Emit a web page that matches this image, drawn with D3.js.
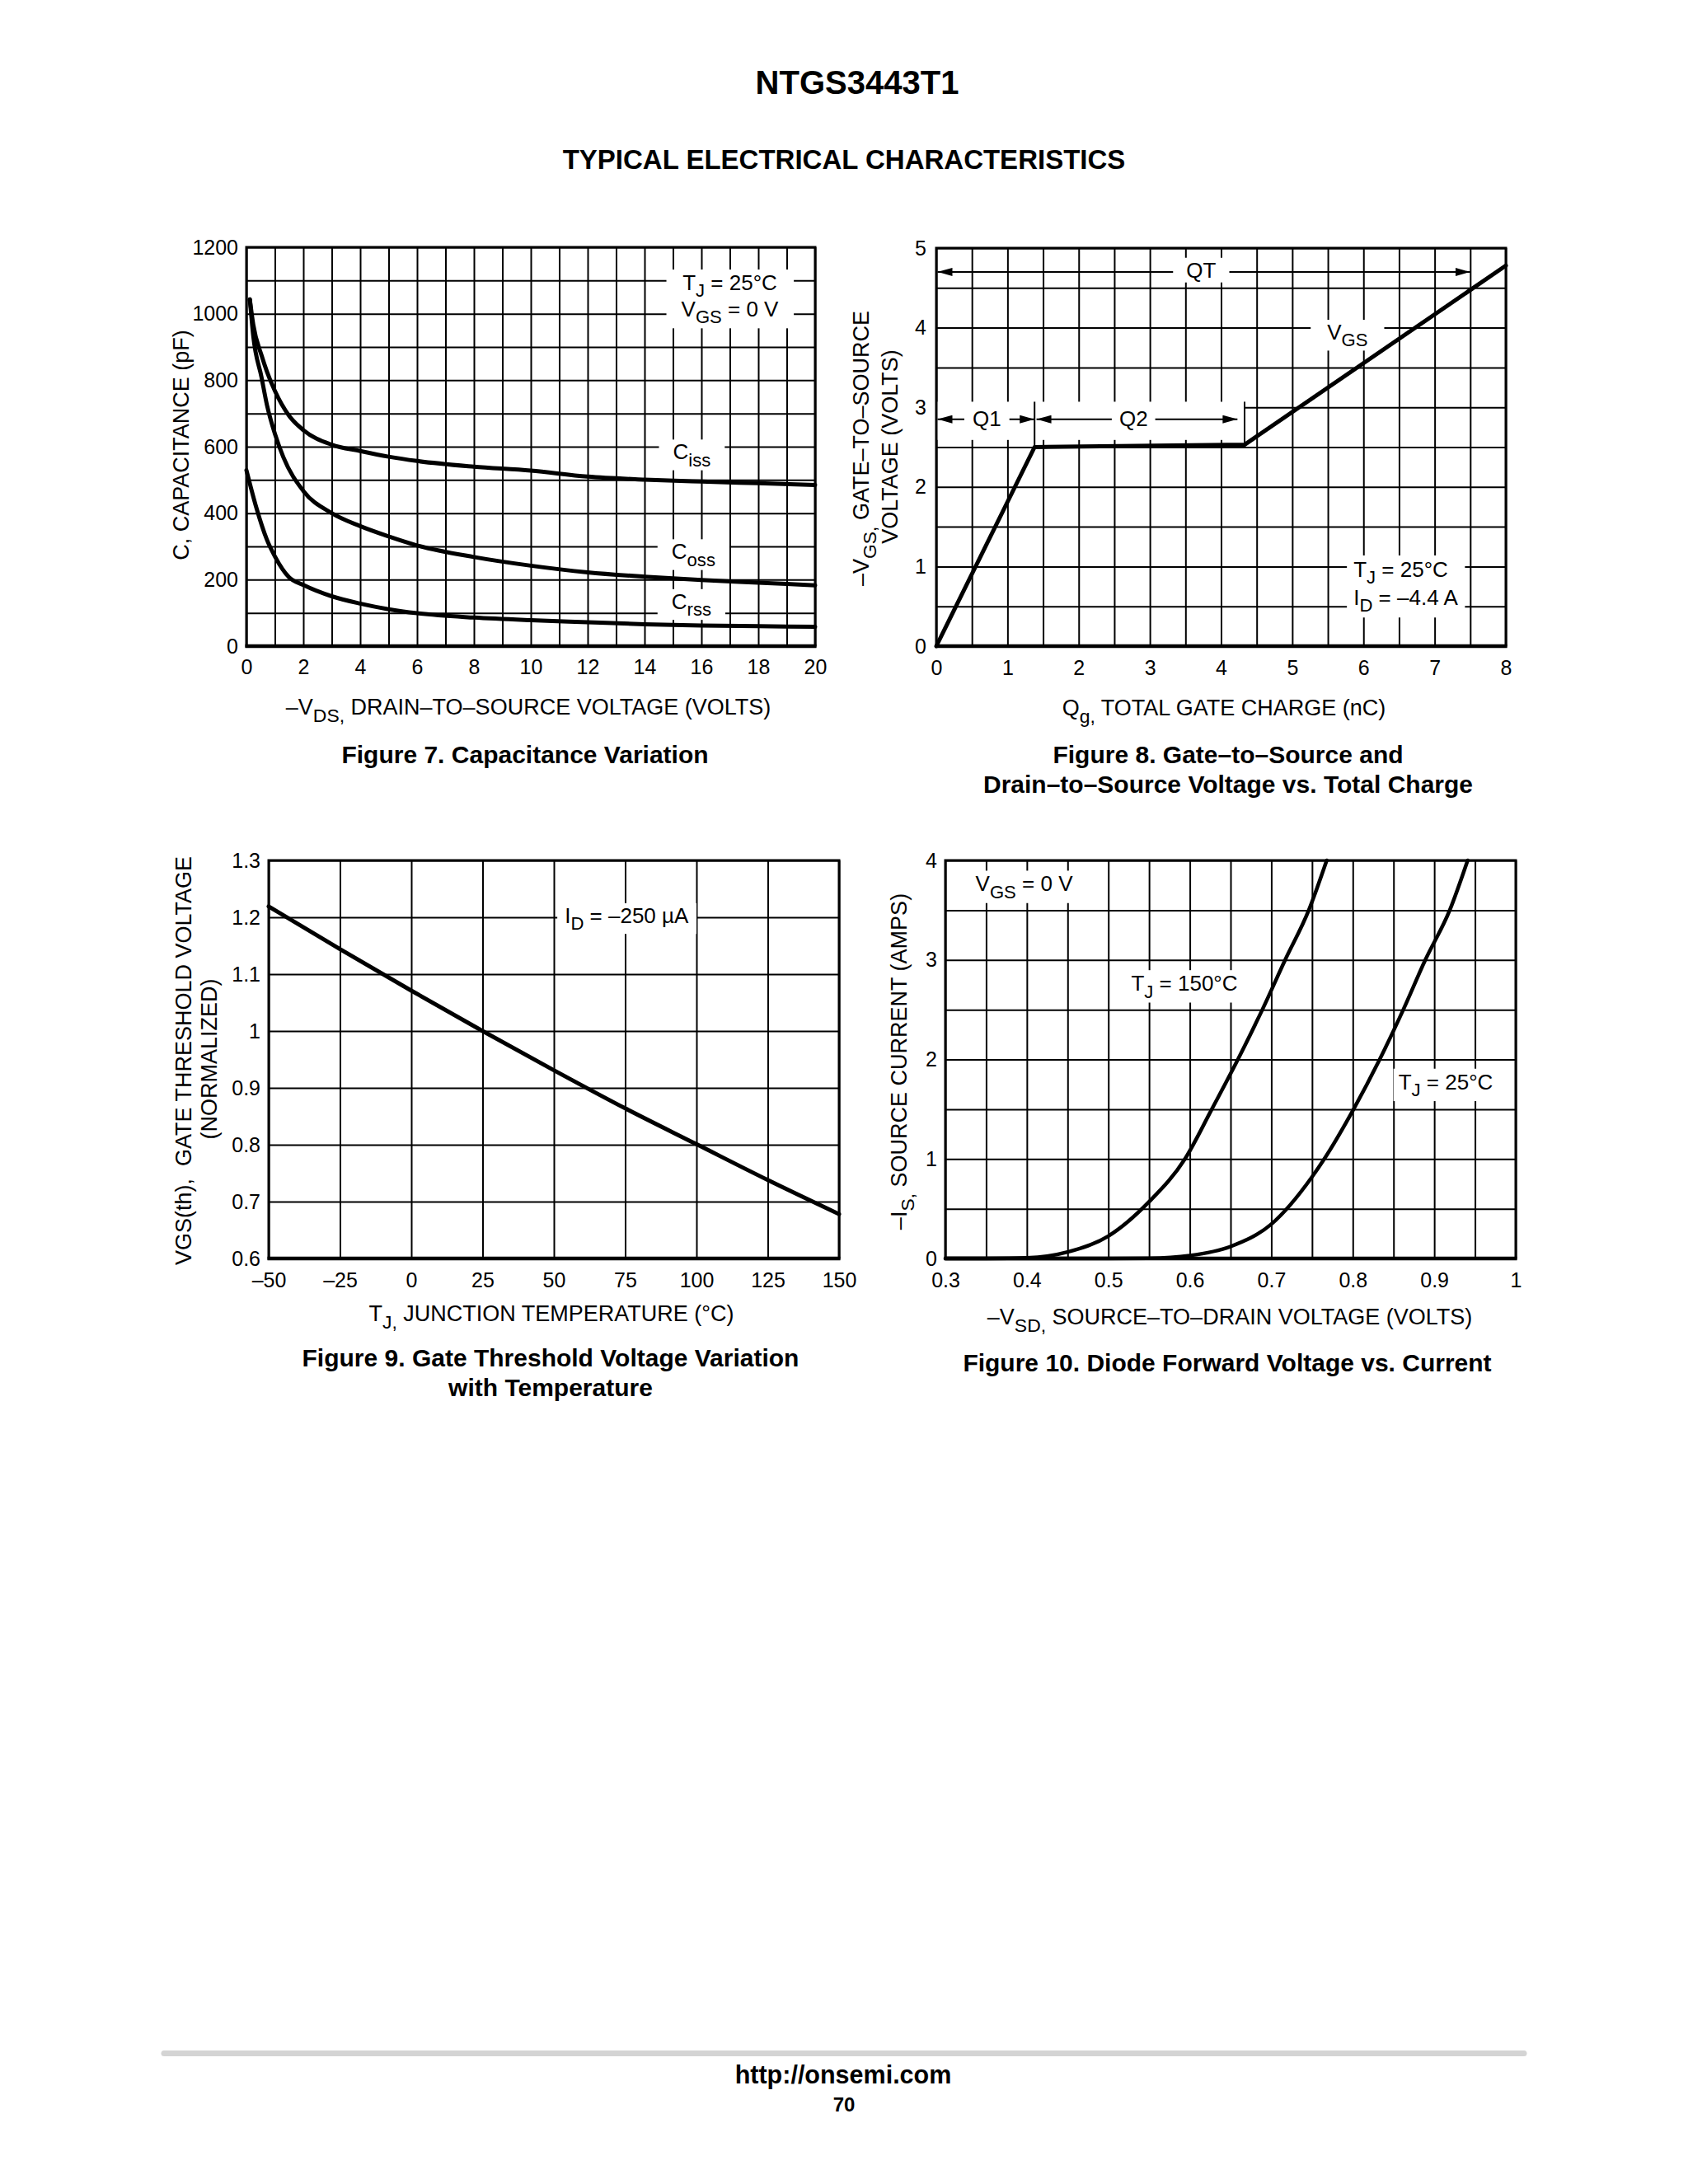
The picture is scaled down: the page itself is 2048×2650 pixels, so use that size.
<!DOCTYPE html>
<html><head><meta charset="utf-8">
<script src="https://cdn.jsdelivr.net/npm/d3@7"></script>
<style>
html,body{margin:0;padding:0;background:#fff;}
svg{display:block;background:#fff;}
</style></head><body>
<svg id="page" width="2048" height="2650"></svg>
<script>
// ================= DATA =================
// Figure 7 – Capacitance Variation  [-VDS (V), C (pF)]
const fig7XTicks = [0, 2, 4, 6, 8, 10, 12, 14, 16, 18, 20];
const fig7YTicks = [0, 200, 400, 600, 800, 1000, 1200];
const cissData = [[0.12,1043],[0.24,967],[0.53,875],[0.72,826],[1,768],[1.5,693],[2,650],[3,606],[4,587],[5,570],[6,557],[8,540],[10,528],[12,510],[14,501],[16,495],[18,490],[20,485]];
const cossData = [[0.12,1043],[0.24,933],[0.53,809],[0.72,726],[1,639],[1.3,568],[2,467],[3,400],[4,361],[5,330],[6,303],[8,268],[10,242],[12,222],[14,209],[16,199],[18,191],[20,183]];
const crssData = [[0,529],[0.34,419],[0.72,320],[1,270],[1.5,207],[2,184],[3,150],[4,128],[5,111],[6,99],[8,86],[10,78],[12,72],[14,66],[16,62],[18,60],[20,58]];

// Figure 8 – Gate charge  [Qg (nC), -VGS (V)]
const fig8XTicks = [0, 1, 2, 3, 4, 5, 6, 7, 8];
const fig8YTicks = [0, 1, 2, 3, 4, 5];
const vgsChargeData = [[0,0],[1.38,2.5],[4.33,2.53],[8,4.78]];
const q1Span = [0, 1.38];
const q2Span = [1.38, 4.23];
const qtSpan = [0, 7.5];
const qMarkers = [[1.38, 2.5], [4.33, 2.53]];

// Figure 9 – Gate threshold vs temperature  [TJ (°C), VGS(th) normalized]
const fig9XTicks = [-50, -25, 0, 25, 50, 75, 100, 125, 150];
const fig9YTicks = [0.6, 0.7, 0.8, 0.9, 1, 1.1, 1.2, 1.3];
const vthData = [[-50,1.219],[-25,1.144],[0,1.071],[25,1.0],[50,0.931],[75,0.864],[100,0.801],[125,0.738],[150,0.678]];

// Figure 10 – Diode forward voltage vs current  [-VSD (V), -IS (A)]
const fig10XTicks = [0.3, 0.4, 0.5, 0.6, 0.7, 0.8, 0.9, 1];
const fig10YTicks = [0, 1, 2, 3, 4];
const is150Data = [[0.3,0],[0.35,0.001],[0.4,0.006],[0.45,0.065],[0.5,0.225],[0.55,0.57],[0.594,1.0],[0.627,1.5],[0.659,2.0],[0.689,2.5],[0.717,3.0],[0.746,3.5],[0.768,4.0]];
const is25Data = [[0.3,0],[0.5,0],[0.55,0.003],[0.6,0.03],[0.65,0.12],[0.7,0.345],[0.75,0.82],[0.765,1.0],[0.801,1.5],[0.833,2.0],[0.862,2.5],[0.889,3.0],[0.919,3.5],[0.941,4.0]];

// ================= DRAWING =================
const svg = d3.select("#page");
const FONT = '"Liberation Sans", Arial, Helvetica, sans-serif';
const dash = v => String(v).replace("-", "\u2013");
const AX = 27, CAP = 30, ANN = 26, TICK = 25;

function parseRich(str){
  const parts=[]; const re=/_\{([^}]*)\}/g; let last=0, m;
  while((m=re.exec(str))){
    if(m.index>last) parts.push({t:str.slice(last,m.index),sub:false});
    parts.push({t:m[1],sub:true}); last=re.lastIndex;
  }
  if(last<str.length) parts.push({t:str.slice(last),sub:false});
  return parts;
}
function rich(parent, str, x, y, size, o={}){
  const t = parent.append("text").attr("x",x).attr("y",y).attr("font-size",size)
    .attr("font-family",FONT).attr("fill","#000")
    .attr("text-anchor",o.anchor||"start").attr("font-weight",o.weight||"normal")
    .style("white-space","pre");
  if(o.rotate) t.attr("transform",`rotate(-90,${x},${y})`);
  const shift=size*0.32; let down=false;
  parseRich(str).forEach(p=>{
    const s=t.append("tspan").text(p.t);
    if(p.sub){ s.attr("font-size",size*0.85); if(!down){ s.attr("dy",shift); down=true; } }
    else if(down){ s.attr("dy",-shift); down=false; }
  });
  return t;
}
function boxed(parent, lines, x, y, lineH, size, o={}){
  const g=parent.append("g");
  const r=g.append("rect").attr("fill","#fff");
  const ts=lines.map((s,i)=>rich(g,s,x,y+i*lineH,size,o));
  let x0=Infinity,y0=Infinity,x1=-Infinity,y1=-Infinity;
  ts.forEach(t=>{const b=t.node().getBBox(); x0=Math.min(x0,b.x); y0=Math.min(y0,b.y); x1=Math.max(x1,b.x+b.width); y1=Math.max(y1,b.y+b.height);});
  const px=o.padX??10, py=o.padY??2;
  r.attr("x",x0-px).attr("y",y0-py).attr("width",x1-x0+2*px).attr("height",y1-y0+2*py);
  return g;
}

function chart(cfg){
  const g = svg.append("g");
  const x = d3.scaleLinear().domain(cfg.xDomain).range([cfg.left, cfg.right]);
  const y = d3.scaleLinear().domain(cfg.yDomain).range([cfg.bottom, cfg.top]);
  const h = cfg.bottom-cfg.top, w = cfg.right-cfg.left;
  // grid
  g.append("g").attr("transform",`translate(0,${cfg.bottom})`)
    .call(d3.axisBottom(x).tickValues(cfg.xGrid).tickSize(-h).tickFormat(""))
    .call(a=>a.select(".domain").remove())
    .selectAll("line").attr("stroke","#000").attr("stroke-width",2);
  g.append("g").attr("transform",`translate(${cfg.left},0)`)
    .call(d3.axisLeft(y).tickValues(cfg.yGrid).tickSize(-w).tickFormat(""))
    .call(a=>a.select(".domain").remove())
    .selectAll("line").attr("stroke","#000").attr("stroke-width",2);
  // tick labels
  g.append("g").attr("transform",`translate(0,${cfg.bottom})`)
    .call(d3.axisBottom(x).tickValues(cfg.xTicks).tickSize(0).tickPadding(cfg.xPad||16).tickFormat(cfg.xFmt||dash))
    .call(a=>a.select(".domain").remove())
    .attr("font-size",TICK).attr("font-family",FONT);
  g.append("g").attr("transform",`translate(${cfg.left},0)`)
    .call(d3.axisLeft(y).tickValues(cfg.yTicks).tickSize(0).tickPadding(cfg.yPad||10).tickFormat(cfg.yFmt||dash))
    .call(a=>a.select(".domain").remove())
    .attr("font-size",TICK).attr("font-family",FONT);
  const frame = () => {
    g.append("rect").attr("x",cfg.left).attr("y",cfg.top).attr("width",w).attr("height",h)
      .attr("fill","none").attr("stroke","#000").attr("stroke-width",3);
    g.append("line").attr("x1",cfg.left-1.5).attr("x2",cfg.right+1.5).attr("y1",cfg.bottom).attr("y2",cfg.bottom)
      .attr("stroke","#000").attr("stroke-width",4.5);
  };
  return {g, x, y, frame};
}
function curve(c, data, width, kind){
  const line = d3.line().x(d=>c.x(d[0])).y(d=>c.y(d[1])).curve(kind||d3.curveMonotoneX);
  c.g.append("path").datum(data).attr("d",line).attr("fill","none").attr("stroke","#000")
    .attr("stroke-width",width).attr("stroke-linejoin","round").attr("stroke-linecap","round");
}

// markers
const defs = svg.append("defs");
defs.append("marker").attr("id","arr").attr("viewBox","0 0 18 10").attr("refX",18).attr("refY",5)
  .attr("markerWidth",18).attr("markerHeight",10).attr("markerUnits","userSpaceOnUse")
  .attr("orient","auto-start-reverse")
  .append("path").attr("d","M0,0 L18,5 L0,10 Z").attr("fill","#000");

// ---------- Page titles ----------
rich(svg,"NTGS3443T1",1040,114,40,{anchor:"middle",weight:"bold"});
rich(svg,"TYPICAL ELECTRICAL CHARACTERISTICS",1024,205,33,{anchor:"middle",weight:"bold"});

// ---------- Figure 7 ----------
{
  const c = chart({left:299,right:989,top:300,bottom:784,xDomain:[0,20],yDomain:[0,1200],
    xGrid:d3.range(0,20.01,1),yGrid:d3.range(0,1200.1,100),xTicks:fig7XTicks,yTicks:fig7YTicks});
  boxed(c.g,["T_{J} = 25°C","V_{GS} = 0 V"],c.x(17.0),c.y(1071),32,ANN,{anchor:"middle",padX:18,padY:1});
  boxed(c.g,["C_{iss}"],c.x(15.0),c.y(562),0,ANN,{padX:17,padY:0});
  boxed(c.g,["C_{oss}"],c.x(14.95),c.y(262),0,ANN,{padX:17,padY:0});
  boxed(c.g,["C_{rss}"],c.x(14.95),c.y(112),0,ANN,{padX:17,padY:0});
  c.frame();
  curve(c,cissData,5); curve(c,cossData,5); curve(c,crssData,5);
  rich(svg,"\u2013V_{DS,} DRAIN\u2013TO\u2013SOURCE VOLTAGE (VOLTS)",641,867,AX,{anchor:"middle"});
  rich(svg,"C, CAPACITANCE (pF)",229,540,AX,{anchor:"middle",rotate:true});
  rich(svg,"Figure 7. Capacitance Variation",637,926,CAP,{anchor:"middle",weight:"bold"});
}

// ---------- Figure 8 ----------
{
  const c = chart({left:1136,right:1827,top:301,bottom:784,xDomain:[0,8],yDomain:[0,5],
    xGrid:d3.range(0,8.01,0.5),yGrid:d3.range(0,5.01,0.5),xTicks:fig8XTicks,yTicks:fig8YTicks,yPad:12,xPad:17});
  // white band behind Q1/Q2 row
  c.g.append("rect").attr("x",c.x(0)).attr("y",c.y(3.07)).attr("width",c.x(qMarkers[1][0])-c.x(0))
    .attr("height",c.y(2.59)-c.y(3.07)).attr("fill","#fff");
  c.frame();
  const arrow = (span, v) => c.g.append("line").attr("x1",c.x(span[0])+1.5).attr("x2",c.x(span[1])).attr("y1",c.y(v)).attr("y2",c.y(v))
      .attr("stroke","#000").attr("stroke-width",2).attr("marker-start","url(#arr)").attr("marker-end","url(#arr)");
  arrow(qtSpan,4.70); arrow(q1Span,2.85); arrow([q2Span[0]+0.01,q2Span[1]],2.85);
  qMarkers.forEach(m=>c.g.append("line").attr("x1",c.x(m[0])).attr("x2",c.x(m[0])).attr("y1",c.y(m[1])).attr("y2",c.y(3.07))
      .attr("stroke","#000").attr("stroke-width",2));
  boxed(c.g,["QT"],c.x(3.72),c.y(4.63),0,ANN,{anchor:"middle",padX:16,padY:0});
  boxed(c.g,["Q1"],c.x(0.71),c.y(2.76),0,ANN,{anchor:"middle",padX:10,padY:0});
  boxed(c.g,["Q2"],c.x(2.77),c.y(2.76),0,ANN,{anchor:"middle",padX:9,padY:0});
  boxed(c.g,["V_{GS}"],c.x(5.49),c.y(3.85),0,ANN,{padX:20,padY:0});
  boxed(c.g,["T_{J} = 25°C","I_{D} = \u20134.4 A"],c.x(5.86),c.y(0.87),34,ANN,{padX:8,padY:2});
  curve(c,vgsChargeData,5,d3.curveLinear);
  rich(svg,"Q_{g,} TOTAL GATE CHARGE (nC)",1485,868,AX,{anchor:"middle"});
  rich(svg,"\u2013V_{GS,} GATE\u2013TO\u2013SOURCE",1054,544,AX,{anchor:"middle",rotate:true});
  rich(svg,"VOLTAGE (VOLTS)",1089,542,AX,{anchor:"middle",rotate:true});
  rich(svg,"Figure 8. Gate\u2013to\u2013Source and",1490,926,CAP,{anchor:"middle",weight:"bold"});
  rich(svg,"Drain\u2013to\u2013Source Voltage vs. Total Charge",1490,962,CAP,{anchor:"middle",weight:"bold"});
}

// ---------- Figure 9 ----------
{
  const c = chart({left:326,right:1018,top:1044,bottom:1527,xDomain:[-50,150],yDomain:[0.6,1.3],
    xGrid:d3.range(-50,150.1,25),yGrid:d3.range(6,13.01,1).map(v=>v/10),xTicks:fig9XTicks,yTicks:fig9YTicks,xPad:17});
  boxed(c.g,["I_{D} = \u2013250 \u00B5A"],c.x(53.8),c.y(1.19),0,ANN,{padX:9,padY:0});
  c.frame();
  curve(c,vthData,5);
  rich(svg,"T_{J,} JUNCTION TEMPERATURE (°C)",669,1603,AX,{anchor:"middle"});
  rich(svg,"VGS(th),  GATE THRESHOLD VOLTAGE",232,1287,AX,{anchor:"middle",rotate:true});
  rich(svg,"(NORMALIZED)",263,1285,AX,{anchor:"middle",rotate:true});
  rich(svg,"Figure 9. Gate Threshold Voltage Variation",668,1658,CAP,{anchor:"middle",weight:"bold"});
  rich(svg,"with Temperature",668,1694,CAP,{anchor:"middle",weight:"bold"});
}

// ---------- Figure 10 ----------
{
  const c = chart({left:1147,right:1839,top:1044,bottom:1527,xDomain:[0.3,1.0],yDomain:[0,4],
    xGrid:d3.range(6,20.01,1).map(v=>v/20),yGrid:d3.range(0,4.01,0.5),xTicks:fig10XTicks,yTicks:fig10YTicks,xPad:17});
  boxed(c.g,["V_{GS} = 0 V"],c.x(0.337),c.y(3.69),0,ANN,{padX:6,padY:1});
  boxed(c.g,["T_{J} = 150°C"],c.x(0.528),c.y(2.69),0,ANN,{padX:6,padY:1});
  boxed(c.g,["T_{J} = 25°C"],c.x(0.856),c.y(1.70),0,ANN,{padX:6,padY:1});
  c.frame();
  curve(c,is150Data,4.5); curve(c,is25Data,4.5);
  rich(svg,"\u2013V_{SD,} SOURCE\u2013TO\u2013DRAIN VOLTAGE (VOLTS)",1492,1607,AX,{anchor:"middle"});
  rich(svg,"\u2013I_{S,} SOURCE CURRENT (AMPS)",1100,1288,AX,{anchor:"middle",rotate:true});
  rich(svg,"Figure 10. Diode Forward Voltage vs. Current",1489,1664,CAP,{anchor:"middle",weight:"bold"});
}

// ---------- Footer ----------
svg.append("line").attr("x1",199).attr("x2",1849).attr("y1",2491.5).attr("y2",2491.5)
  .attr("stroke","#d4d4d4").attr("stroke-width",7).attr("stroke-linecap","round");
rich(svg,"http://onsemi.com",1023,2528,30.5,{anchor:"middle",weight:"bold"});
rich(svg,"70",1024,2562,24,{anchor:"middle",weight:"bold"});
</script>
</body></html>
